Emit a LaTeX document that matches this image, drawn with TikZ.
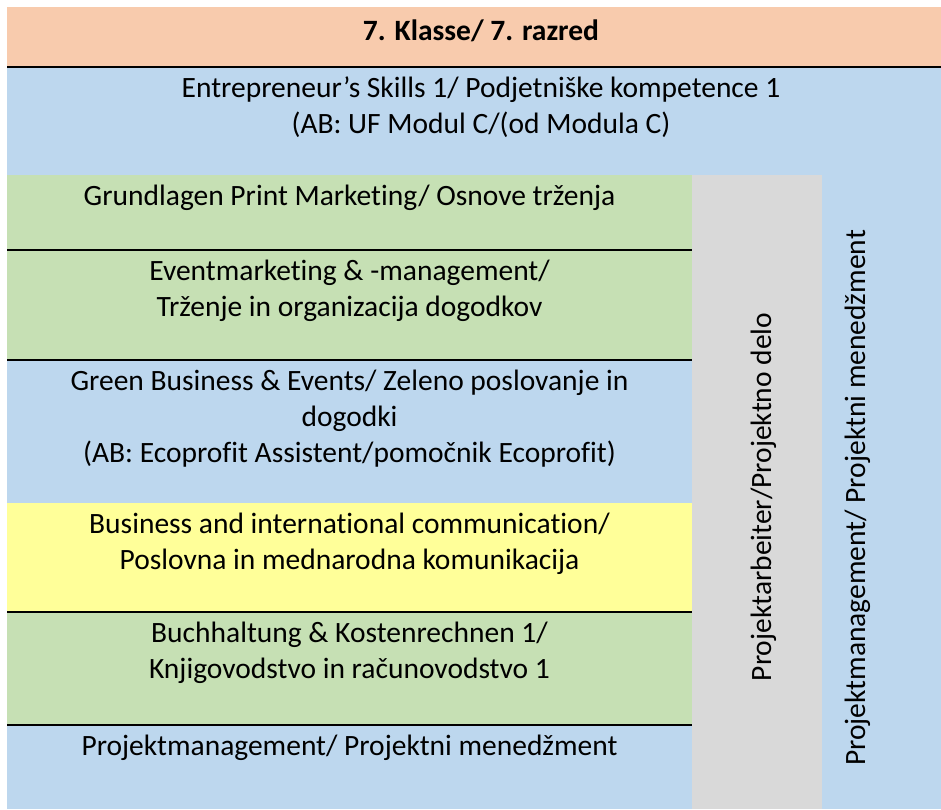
\documentclass[tikz,border=0pt]{standalone}
\usepackage{fontspec}
\setmainfont{Carlito}[Ligatures=NoCommon]
\usetikzlibrary{positioning}
\definecolor{peach}{HTML}{F8CBAD}
\definecolor{sky}{HTML}{BDD7EE}
\definecolor{leaf}{HTML}{C6E0B4}
\definecolor{lemon}{HTML}{FFFF99}
\definecolor{stone}{HTML}{D9D9D9}
\begin{document}
\begin{tikzpicture}[x=1pt,y=-1pt,font=\fontsize{29.5}{36}\selectfont,
    cell/.style={anchor=north west,inner sep=0,outer sep=0,minimum width=685,minimum height=#1},
    txt/.style={align=center,inner sep=0},
    rule/.style={line width=2.5pt,black}]
        \useasboundingbox (0,0) rectangle (941,809);
        \node [cell=742,minimum width=934,fill=sky] (entre) at (7,67) {};
        \node [cell=60,minimum width=934,fill=peach] (head) at (7,7) {};
        \node [cell=75,fill=leaf] (grund) at (7,175) {};
        \node [cell=110,fill=leaf] (event) at (7,250) {};
        \node [cell=143,fill=sky] (green) at (7,360) {};
        \node [cell=109,fill=lemon] (comm) at (7,503) {};
        \node [cell=113,fill=leaf] (buch) at (7,612) {};
        \node [cell=84,fill=sky] (proj) at (7,725) {};
        \node [cell=634,minimum width=130,fill=stone] (arb) at (692,175) {};
        \draw [rule] (head.south west) -- (head.south east);
        \draw [rule] (grund.south west) -- (grund.south east);
        \draw [rule] (event.south west) -- (event.south east);
        \draw [rule] (comm.south west) -- (comm.south east);
        \draw [rule] (buch.south west) -- (buch.south east);
        \node [anchor=base,font=\fontsize{29.5}{36}\selectfont\bfseries] (headtxt) at (481,40) {7. Klasse/ 7. razred};
        \node [txt,anchor=north] (entretxt) at (481,72) {\strut Entrepreneur’s Skills 1/ Podjetniške kompetence 1\\(AB: UF Modul C/(od Modula C)};
        \node [txt,below=5pt of grund.north] (grundtxt) {\strut Grundlagen Print Marketing/ Osnove trženja};
        \node [txt,below=5pt of event.north] (eventtxt) {\strut Eventmarketing \& -management/\\Trženje in organizacija dogodkov};
        \node [txt,below=5pt of green.north] (greentxt) {\strut Green Business \& Events/ Zeleno poslovanje in\\dogodki\\(AB: Ecoprofit Assistent/pomočnik Ecoprofit)};
        \node [txt,below=5pt of comm.north] (commtxt) {\strut Business and international communication/\\Poslovna in mednarodna komunikacija};
        \node [txt,below=5pt of buch.north] (buchtxt) {\strut Buchhaltung \& Kostenrechnen 1/\\Knjigovodstvo in računovodstvo 1};
        \node [txt,below=5pt of proj.north] (projtxt) {\strut Projektmanagement/ Projektni menedžment};
        \node [anchor=base,rotate=90] (arbtxt) at (771,497) {Projektarbeiter/Projektno delo};
        \node [anchor=base,rotate=90] (mgmttxt) at (865,498) {Projektmanagement/ Projektni menedžment};
\end{tikzpicture}
\end{document}
